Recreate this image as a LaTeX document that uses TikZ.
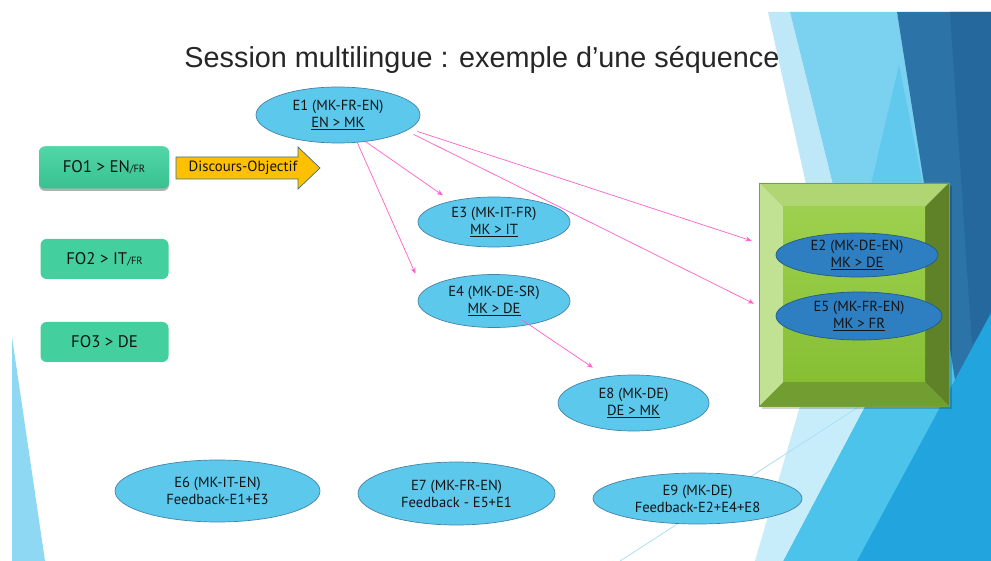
\documentclass[tikz,border=0pt]{standalone}
\usepackage{fontspec}
\newfontfamily\titlefont{Liberation Sans}
\newfontfamily\lblfont{PT Sans}
\usetikzlibrary{arrows.meta,shapes.geometric,calc,shadows}
\definecolor{elifill}{RGB}{92,200,236}
\definecolor{eliborder}{RGB}{70,130,168}
\definecolor{darkfill}{RGB}{46,126,194}
\definecolor{darkborder}{RGB}{36,90,138}
\definecolor{fogreen}{RGB}{68,207,158}
\definecolor{fotop}{RGB}{82,214,168}
\definecolor{fobot}{RGB}{56,193,144}
\definecolor{arrfill}{RGB}{255,192,0}
\definecolor{arrborder}{RGB}{60,110,150}
\definecolor{pinkline}{RGB}{255,96,206}
\definecolor{txt}{RGB}{20,20,20}
\definecolor{titletxt}{RGB}{38,38,38}
\definecolor{bevtop}{RGB}{175,214,114}
\definecolor{bevleft}{RGB}{193,226,147}
\definecolor{bevright}{RGB}{95,130,41}
\definecolor{bevbot}{RGB}{114,157,49}
\definecolor{facetop}{RGB}{157,208,78}
\definecolor{facebot}{RGB}{134,191,52}
\definecolor{boxedge}{RGB}{120,160,60}
\definecolor{decpale}{RGB}{190,232,248}
\definecolor{declight}{RGB}{123,209,240}
\definecolor{deccyan}{RGB}{98,201,238}
\definecolor{decdark}{RGB}{44,115,168}
\definecolor{decdarker}{RGB}{37,104,158}
\definecolor{decmed}{RGB}{76,195,235}
\definecolor{decdeep}{RGB}{34,165,222}
\definecolor{decwhite}{RGB}{200,237,250}
\definecolor{decline}{RGB}{170,224,245}
\definecolor{sliver}{RGB}{142,216,243}
\begin{document}
\begin{tikzpicture}[x=1pt,y=-1pt,
  eli/.style={ellipse, draw=eliborder, fill=elifill, line width=0.7pt, inner sep=0pt},
  deli/.style={ellipse, draw=darkborder, fill=darkfill, line width=0.7pt, inner sep=0pt},
  lbl/.style={font=\lblfont\fontsize{14.6}{17}\selectfont, text=txt, align=center},
  fobox/.style={rounded corners=6pt, fill=fogreen, minimum width=128pt, minimum height=40pt, inner sep=0pt, font=\lblfont\fontsize{16.8}{19}\selectfont, text=txt},
  link/.style={draw=pinkline, line width=0.7pt, -{Stealth[length=6pt,width=5pt]}},
  small/.style={font=\lblfont\fontsize{10}{12}\selectfont}
]
\useasboundingbox (0,0) rectangle (991,561);
\fill[white] (0,0) rectangle (991,561);

% ---- background decoration ----
\fill[sliver] (12,337) -- (45,561) -- (12,561) -- cycle;
\begin{scope}
\clip (0,12) rectangle (991,561);
\fill[decpale] (768,12) -- (790,12) -- (888,406) -- (855,406) -- cycle;
\fill[declight] (790,12) -- (897,12) -- (967,406) -- (888,406) -- cycle;
\fill[deccyan] (899,65) -- (967,406) -- (819,406) -- cycle;
\fill[decmed] (783,561) -- (991,168) -- (991,561) -- cycle;
\fill[decdark] (897,12) -- (991,12) -- (991,330) -- (955,380) -- cycle;
\fill[decdarker] (950,12) -- (991,12) -- (991,320) -- (972,345) -- cycle;
\fill[decdeep] (857,561) -- (991,313) -- (991,561) -- cycle;
\fill[decwhite] (800,406) -- (865,406) -- (783,561) -- (755,561) -- cycle;
\draw[decline, line width=0.8pt] (620,561) -- (860,406);
\end{scope}

% ---- title ----
\node[font=\titlefont\fontsize{28.8}{34}\selectfont, text=titletxt, anchor=base, inner sep=0pt] (T) at (482,68) {Session multilingue : exemple d’une séquence};

% ---- FO boxes ----
\node[fobox, minimum width=130pt, minimum height=42pt, top color=fotop, bottom color=fobot,
      drop shadow={shadow xshift=0pt, shadow yshift=-2.5pt, opacity=0.3, fill=black}] (FO1) at (104,167.5) {FO1 > EN{\fontsize{10.5}{12}\selectfont/FR}};
\node[fobox] (FO2) at (104.5,259) {FO2 > IT{\fontsize{10.5}{12}\selectfont/FR}};
\node[fobox] (FO3) at (104.5,342) {FO3 > DE};

% ---- block arrow ----
\filldraw[fill=arrfill, draw=arrborder, line width=0.7pt]
  (176,157) -- (298,157) -- (298,147) -- (320,168) -- (298,189) -- (298,179) -- (176,179) -- cycle;
\node[lbl, font=\lblfont\fontsize{14.8}{17}\selectfont, inner sep=0pt] (DO) at (243,168) {Discours-Objectif};

% ---- green bevel box ----
\node[minimum width=190pt, minimum height=223pt, inner sep=0pt, outer sep=0pt] (G) at (854,294.5) {};
\fill[black, opacity=0.18] ($(G.north west)+(3,3)$) rectangle ($(G.south east)+(3,3)$);
\coordinate (g1) at ($(G.north west)+(24,24)$);
\coordinate (g2) at ($(G.north east)+(-24,24)$);
\coordinate (g3) at ($(G.south east)+(-24,-24)$);
\coordinate (g4) at ($(G.south west)+(24,-24)$);
\fill[bevtop] (G.north west) -- (G.north east) -- (g2) -- (g1) -- cycle;
\fill[bevright] (G.north east) -- (G.south east) -- (g3) -- (g2) -- cycle;
\fill[bevbot] (G.south east) -- (G.south west) -- (g4) -- (g3) -- cycle;
\fill[bevleft] (G.south west) -- (G.north west) -- (g1) -- (g4) -- cycle;
\shade[top color=facetop, bottom color=facebot] (g1) rectangle (g3);
\draw[boxedge, line width=0.6pt] (G.north west) rectangle (G.south east);

% ---- ellipses ----
\node[eli, minimum width=164pt, minimum height=56pt,
      label={[lbl]center:{E1 (MK-FR-EN)\\\underline{EN > MK}}}] (E1) at (338,115) {};
\node[eli, minimum width=152pt, minimum height=50pt,
      label={[lbl]center:{E3 (MK-IT-FR)\\\underline{MK > IT}}}] (E3) at (494,222) {};
\node[eli, minimum width=152pt, minimum height=53pt,
      label={[lbl]center:{E4 (MK-DE-SR)\\\underline{MK > DE}}}] (E4) at (494,301) {};
\node[eli, minimum width=151pt, minimum height=56pt,
      label={[lbl]center:{E8 (MK-DE)\\\underline{DE > MK}}}] (E8) at (633.5,403) {};
\node[deli, minimum width=162pt, minimum height=44pt,
      label={[lbl]center:{E2 (MK-DE-EN)\\\underline{MK > DE}}}] (E2) at (857,255) {};
\node[deli, minimum width=166pt, minimum height=48pt,
      label={[lbl]center:{E5 (MK-FR-EN)\\\underline{MK > FR}}}] (E5) at (859,316) {};
\node[eli, minimum width=205pt, minimum height=62pt,
      label={[lbl]center:{E6 (MK-IT-EN)\\Feedback-E1+E3}}] (E6) at (217.5,491) {};
\node[eli, minimum width=197pt, minimum height=63pt,
      label={[lbl]center:{E7 (MK-FR-EN)\\Feedback - E5+E1}}] (E7) at (456.5,493.5) {};
\node[eli, minimum width=209pt, minimum height=51pt,
      label={[lbl]center:{E9 (MK-DE)\\Feedback-E2+E4+E8}}] (E9) at (697.5,498.5) {};

% ---- connectors ----
\draw[link, shorten >=10pt] (E1.-44) -- (E3.154);
\draw[link, shorten >=19pt] (E1.-55) -- (E4.172);
\draw[link, shorten <=8pt, shorten >=28pt] (E1.-11) -- (E2.176);
\draw[link, shorten <=8pt, shorten >=24.5pt] (E1.-13) -- (E5.179);
\draw[link, shorten <=34pt, shorten >=16pt] (E4.center) -- (E8.136);
\end{tikzpicture}
\end{document}
